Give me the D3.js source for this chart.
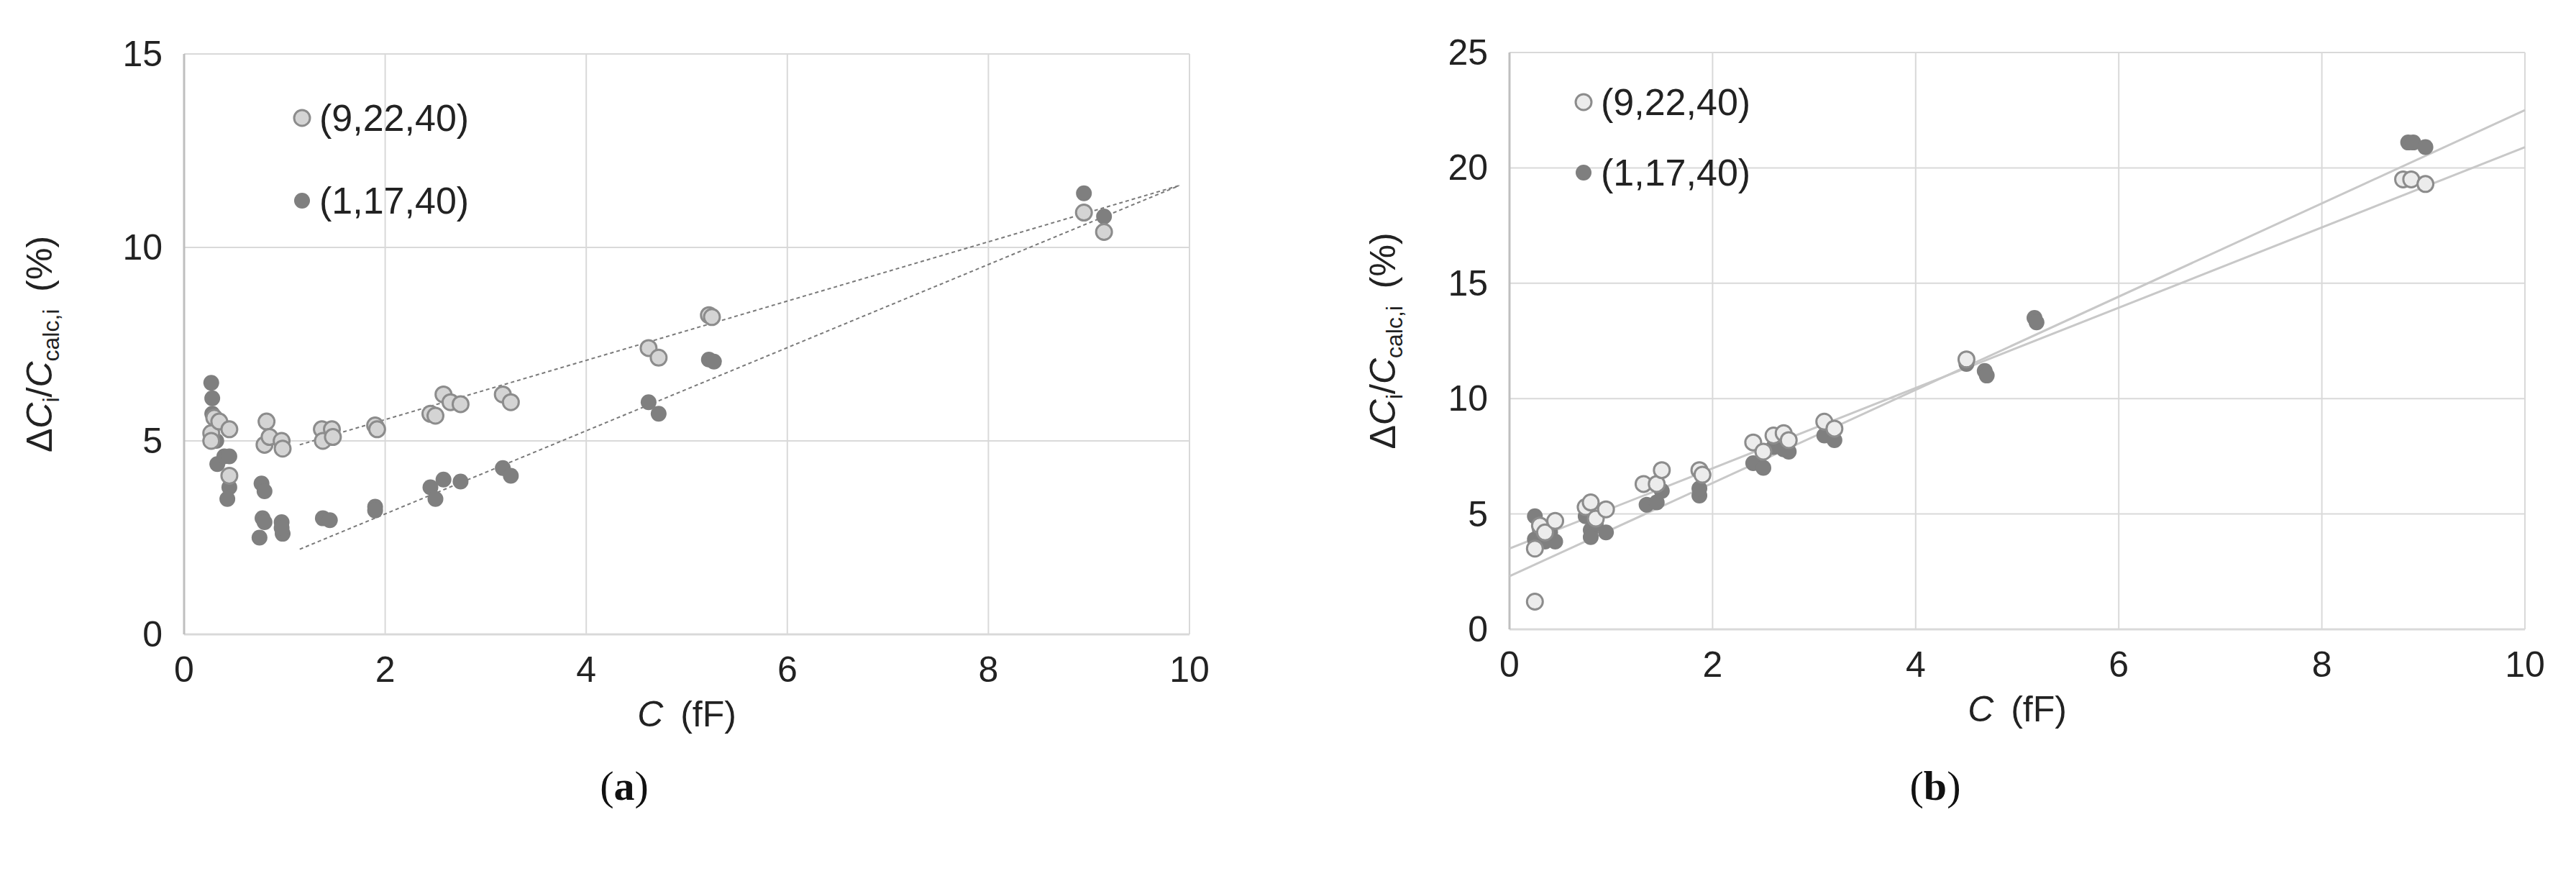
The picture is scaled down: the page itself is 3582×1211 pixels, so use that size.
<!DOCTYPE html>
<html><head><meta charset="utf-8">
<script src="https://cdn.jsdelivr.net/npm/d3@7"></script>
<style>body{margin:0;background:#fff}</style></head>
<body><svg id="c" width="3582" height="1211"></svg>
<script>
const legendLabels=["(9,22,40)","(1,17,40)"];
const aLight=[[0.27,5.2],[0.27,5.0],[0.3,5.6],[0.35,5.5],[0.45,5.3],[0.45,4.1],[0.8,4.9],[0.82,5.5],[0.85,5.1],[0.97,5.0],[0.98,4.8],[1.37,5.3],[1.38,5.0],[1.47,5.3],[1.48,5.1],[1.9,5.4],[1.92,5.3],[2.45,5.7],[2.5,5.65],[2.58,6.2],[2.65,6.0],[2.75,5.95],[3.17,6.2],[3.25,6.0],[4.62,7.4],[4.72,7.15],[5.22,8.25],[5.25,8.2],[8.95,10.9],[9.15,10.4]];
const aDark=[[0.27,6.5],[0.28,6.1],[0.28,5.7],[0.32,5.0],[0.33,4.4],[0.4,4.6],[0.45,4.6],[0.45,3.8],[0.43,3.5],[0.77,3.9],[0.8,3.7],[0.78,3.0],[0.8,2.9],[0.75,2.5],[0.97,2.9],[0.98,2.6],[0.97,2.75],[1.38,3.0],[1.45,2.95],[1.9,3.3],[1.9,3.2],[2.45,3.8],[2.5,3.5],[2.58,4.0],[2.75,3.95],[3.17,4.3],[3.25,4.1],[4.62,6.0],[4.72,5.7],[5.22,7.1],[5.27,7.05],[8.95,11.4],[9.15,10.8]];
const aTrendLight=[[1.15,4.9],[9.9,11.6]];
const aTrendDark=[[1.15,2.2],[9.9,11.6]];
const bLight=[[0.25,1.2],[0.25,3.5],[0.3,4.5],[0.35,4.2],[0.45,4.7],[0.75,5.3],[0.8,5.5],[0.85,4.8],[0.95,5.2],[1.32,6.3],[1.45,6.3],[1.5,6.9],[1.87,6.9],[1.9,6.7],[2.4,8.1],[2.5,7.7],[2.6,8.4],[2.7,8.5],[2.75,8.2],[3.1,9.0],[3.2,8.7],[4.5,11.7],[8.8,19.5],[8.88,19.5],[9.02,19.3]];
const bDark=[[0.25,4.9],[0.25,3.9],[0.3,4.3],[0.35,3.8],[0.45,3.8],[0.4,4.2],[0.75,4.9],[0.8,4.3],[0.8,4.0],[0.85,4.6],[0.95,4.2],[1.35,5.4],[1.45,5.5],[1.5,6.0],[1.87,5.8],[1.87,6.1],[2.4,7.2],[2.5,7.0],[2.6,7.9],[2.7,7.8],[2.75,7.7],[3.1,8.4],[3.2,8.2],[4.5,11.5],[4.68,11.2],[4.7,11.0],[5.17,13.5],[5.19,13.3],[8.85,21.1],[8.9,21.1],[9.02,20.9]];
const bTrendLight=[[0,3.5],[10,20.9]];
const bTrendDark=[[0,2.3],[10,22.5]];
const xTicks=[0,2,4,6,8,10];
const aYTicks=[0,5,10,15];
const bYTicks=[0,5,10,15,20,25];

const svg=d3.select("#c");
const F="Liberation Sans, Arial, sans-serif";
function panel(o){
  const g=svg.append("g");
  const x=d3.scaleLinear().domain([0,10]).range([o.l,o.r]);
  const y=d3.scaleLinear().domain([0,o.ymax]).range([o.b,o.t]);
  g.selectAll(".gx").data(xTicks).join("line").attr("x1",d=>x(d)).attr("x2",d=>x(d)).attr("y1",o.t).attr("y2",o.b).attr("stroke","#d9d9d9").attr("stroke-width",2);
  g.selectAll(".gy").data(o.yt).join("line").attr("x1",o.l).attr("x2",o.r).attr("y1",d=>y(d)).attr("y2",d=>y(d)).attr("stroke","#d9d9d9").attr("stroke-width",d=>d===0?3:2);
  g.append("line").attr("x1",o.l).attr("x2",o.l).attr("y1",o.t).attr("y2",o.b).attr("stroke","#bfbfbf").attr("stroke-width",3);
  g.selectAll(".tx").data(xTicks).join("text").attr("x",d=>x(d)).attr("y",o.b+66).attr("text-anchor","middle").attr("font-family",F).attr("font-size",50).attr("fill","#222").text(d=>d);
  g.selectAll(".ty").data(o.yt).join("text").attr("x",o.l-30).attr("y",d=>y(d)+17).attr("text-anchor","end").attr("font-family",F).attr("font-size",50).attr("fill","#222").text(d=>d);
  const ln=d3.line().x(d=>x(d[0])).y(d=>y(d[1]));
  [o.tl,o.td].forEach(t=>g.append("path").attr("d",ln(t)).attr("fill","none").attr("stroke",o.tcol).attr("stroke-width",o.tw).attr("stroke-dasharray",o.dash));
  g.selectAll(".pd").data(o.dark).join("circle").attr("cx",d=>x(d[0])).attr("cy",d=>y(d[1])).attr("r",11).attr("fill","#7f7f7f");
  g.selectAll(".pl").data(o.light).join("circle").attr("cx",d=>x(d[0])).attr("cy",d=>y(d[1])).attr("r",11).attr("fill",o.lfill).attr("stroke","#8c8c8c").attr("stroke-width",3);
  g.append("circle").attr("cx",o.lx).attr("cy",o.ly1).attr("r",11).attr("fill",o.lfill).attr("stroke","#8c8c8c").attr("stroke-width",3);
  g.append("circle").attr("cx",o.lx).attr("cy",o.ly2).attr("r",11).attr("fill","#7f7f7f");
  [o.ly1,o.ly2].forEach((yy,i)=>g.append("text").attr("x",o.lx+24).attr("y",yy+18).attr("font-family",F).attr("font-size",52).attr("fill","#222").text(legendLabels[i]));
  const xt=g.append("text").attr("x",(o.l+o.r)/2).attr("y",o.b+128).attr("text-anchor","middle").attr("font-family",F).attr("font-size",50).attr("fill","#222");
  xt.append("tspan").attr("font-style","italic").text("C");
  xt.append("tspan").text("\u2009 (fF)");
  const yt=g.append("text").attr("transform",`translate(${o.yx},${(o.t+o.b)/2}) rotate(-90)`).attr("text-anchor","middle").attr("font-family",F).attr("font-size",50).attr("fill","#222");
  yt.append("tspan").text("\u0394");
  yt.append("tspan").attr("font-style","italic").text("C");
  yt.append("tspan").attr("font-size",32).attr("dy",10).text("i");
  yt.append("tspan").attr("dy",-10).text("/");
  yt.append("tspan").attr("font-style","italic").text("C");
  yt.append("tspan").attr("font-size",32).attr("dy",10).text("calc,i");
  yt.append("tspan").attr("dy",-10).text("\u2009 (%)");
  svg.append("text").attr("x",o.cap).attr("y",1112).attr("text-anchor","middle").attr("font-family","Liberation Serif, Times New Roman, serif").attr("font-size",58).attr("fill","#111").html(o.capt);
}
panel({l:256,r:1654,t:75,b:882,ymax:15,yt:aYTicks,light:aLight,dark:aDark,tl:aTrendLight,td:aTrendDark,tcol:"#7a7a7a",tw:2,dash:"5,4",lfill:"#d4d4d4",lx:420,ly1:164,ly2:279,yx:72,cap:868,capt:"(<tspan font-weight='bold'>a</tspan>)"});
panel({l:2099,r:3511,t:73,b:875,ymax:25,yt:bYTicks,light:bLight,dark:bDark,tl:bTrendLight,td:bTrendDark,tcol:"#c8c8c8",tw:3,dash:null,lfill:"#ececec",lx:2202,ly1:142,ly2:240,yx:1940,cap:2691,capt:"(<tspan font-weight='bold'>b</tspan>)"});
</script></body></html>
